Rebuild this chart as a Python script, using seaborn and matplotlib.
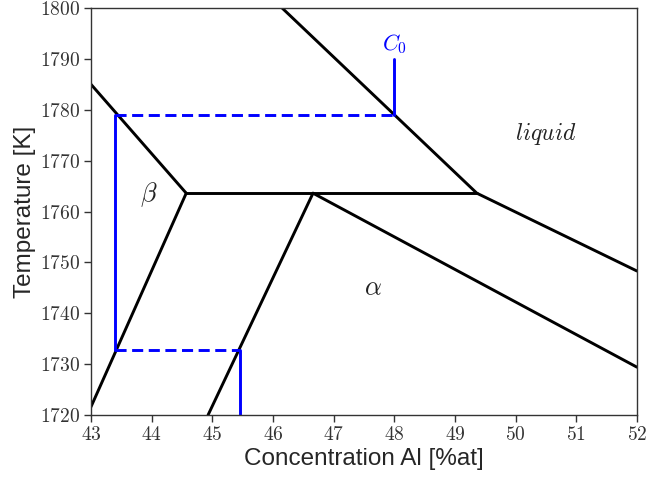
import matplotlib
matplotlib.use("Agg")
import matplotlib.pyplot as plt
import matplotlib.ticker as mticker
import seaborn as sns
import pandas as pd

sns.set_theme(style="ticks")
plt.rcParams["mathtext.fontset"] = "cm"
plt.rcParams["font.family"] = ["Liberation Sans", "DejaVu Sans"]

# Phase boundaries (concentration in %at Al, temperature in K)
liquidus_beta_x = [43.0, 44.57]
liquidus_beta_y = [1785.0, 1763.6]
eutectic_x = [44.57, 49.36]
eutectic_y = [1763.6, 1763.6]
liquidus_upper_x = [46.15, 49.36, 52.0]
liquidus_upper_y = [1800.0, 1763.6, 1748.3]
alpha_solvus_x = [46.66, 52.0]
alpha_solvus_y = [1763.6, 1729.4]
beta_solidus_x = [44.57, 43.0]
beta_solidus_y = [1763.6, 1721.6]
alpha_left_x = [46.66, 44.93]
alpha_left_y = [1763.6, 1720.0]

# Solidification path for alloy C0
c0 = 48.0
t_start = 1779.0
t_second = 1732.7
c_beta = 43.4
c_alpha = 45.45
c0_top = 1790.0

boundaries = [
    (liquidus_beta_x, liquidus_beta_y),
    (eutectic_x, eutectic_y),
    (liquidus_upper_x, liquidus_upper_y),
    (alpha_solvus_x, alpha_solvus_y),
    (beta_solidus_x, beta_solidus_y),
    (alpha_left_x, alpha_left_y),
]

fig = plt.figure(figsize=(6.48, 4.79), dpi=100)
ax = fig.add_axes([0.1404, 0.1336, 0.8426, 0.8497])

for bx, by in boundaries:
    sns.lineplot(x=bx, y=by, ax=ax, color="black", lw=2.1, sort=False, estimator=None)

solid_paths = [
    ([c0, c0], [t_start, c0_top]),
    ([c_beta, c_beta], [t_start, t_second]),
    ([c_alpha, c_alpha], [t_second, 1720.0]),
]
dashed_paths = [
    ([c_beta, c0], [t_start, t_start]),
    ([c_beta, c_alpha], [t_second, t_second]),
]
for px, py in solid_paths:
    sns.lineplot(x=px, y=py, ax=ax, color="blue", lw=2.1, sort=False, estimator=None)
for px, py in dashed_paths:
    sns.lineplot(x=px, y=py, ax=ax, color="blue", lw=2.1, sort=False, estimator=None,
                 linestyle=(0, (3.8, 1.9)))

ax.text(c0, c0_top + 0.6, r"$C_0$", color="blue", fontsize=16, ha="center", va="bottom")
ax.text(43.95, 1763.4, r"$\beta$", fontsize=19, ha="center", va="center", color="#222222")
ax.text(47.65, 1745.0, r"$\alpha$", fontsize=19, ha="center", va="center", color="#222222")
ax.text(50.5, 1775.3, r"$liquid$", fontsize=17, ha="center", va="center", color="#222222")

ax.set_xlim(43, 52)
ax.set_ylim(1720, 1800)
ax.xaxis.set_major_locator(mticker.MultipleLocator(1))
ax.yaxis.set_major_locator(mticker.MultipleLocator(10))
ax.xaxis.set_major_formatter(mticker.FuncFormatter(lambda v, p: f"${v:.0f}$"))
ax.yaxis.set_major_formatter(mticker.FuncFormatter(lambda v, p: f"${v:.0f}$"))
ax.tick_params(axis="both", labelsize=14, color="#333333", length=5, width=1,
               labelcolor="#333333", pad=3)
for s in ax.spines.values():
    s.set_color("#333333")
    s.set_linewidth(1)

ax.set_xlabel("Concentration Al [%at]", fontsize=17.5, labelpad=3)
ax.set_ylabel("Temperature [K]", fontsize=17.5, labelpad=3)

fig.savefig("out.png", dpi=100)
